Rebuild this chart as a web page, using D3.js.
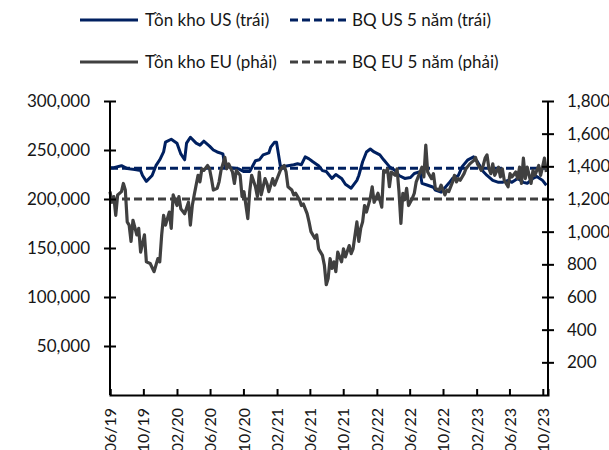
<!DOCTYPE html>
<html>
<head>
<meta charset="utf-8">
<script src="https://cdn.jsdelivr.net/npm/d3@7"></script>
<style>
  body { margin: 0; background: #fff; }
  svg { display: block; font-family: Lato, "Noto Sans", sans-serif; }
</style>
</head>
<body>
<div id="chart"></div>
<script>
// weekly data, week index counted from 01/06/2019
const startDate = new Date(2019, 5, 1);
const endDate = new Date(2023, 9, 20);

const usWeeks = [0, 2, 6, 9, 13, 16, 17, 19, 22, 24, 26, 28, 29, 32, 35, 37, 39, 40, 42, 45,
    47, 49, 52, 54, 56, 59, 60, 63, 67, 70, 73, 76, 78, 80, 83, 84, 86, 87, 89, 90,
    93, 96, 98, 100, 102, 104, 106, 109, 111, 113, 116, 118, 121, 123, 126, 129, 130, 132, 134, 136,
    138, 141, 143, 146, 149, 151, 154, 157, 159, 162, 163, 166, 169, 170, 173, 177, 179, 182, 184, 187,
    190, 192, 195, 197, 200, 203, 205, 208, 210, 213, 216, 218, 221, 223, 226, 228];
const usValues = [232000, 232000, 234000, 231000, 230000, 229000, 224000, 218000, 224000, 234000,
    240000, 248000, 258000, 261000, 257000, 246000, 240000, 257000, 263000, 257000,
    255000, 259000, 254000, 250000, 248000, 246000, 234000, 232000, 231000, 228000,
    228000, 239000, 240000, 245000, 247000, 253000, 258000, 258000, 234000, 233000,
    234000, 235000, 236000, 235000, 243000, 241000, 238000, 234000, 229000, 228000,
    221000, 225000, 221000, 215000, 211000, 219000, 224000, 238000, 248000, 251000,
    248000, 245000, 240000, 233000, 229000, 224000, 221000, 222000, 226000, 228000,
    216000, 214000, 212000, 209000, 207000, 216000, 221000, 224000, 233000, 240000,
    243000, 238000, 228000, 224000, 219000, 217000, 217000, 219000, 217000, 221000,
    217000, 216000, 221000, 223000, 219000, 214000];

const euWeeks = [0, 1, 2, 3, 4, 6, 7, 8, 9, 10, 11, 12, 14, 15, 16, 18, 19, 21, 23, 25,
    26, 27, 28, 29, 31, 32, 33, 35, 36, 37, 39, 41, 42, 43, 44, 46, 47, 48, 49, 51,
    52, 53, 54, 56, 57, 58, 60, 61, 62, 64, 65, 66, 68, 69, 70, 72, 73, 74, 76, 77,
    78, 79, 81, 82, 83, 85, 86, 87, 89, 90, 91, 92, 93, 95, 96, 97, 99, 100, 101, 103,
    104, 105, 107, 108, 109, 111, 112, 113, 114, 115, 116, 117, 118, 119, 121, 122, 123, 125, 126, 127,
    129, 130, 131, 132, 133, 134, 136, 137, 138, 140, 141, 142, 143, 144, 145, 146, 147, 149, 150, 151,
    152, 153, 154, 155, 156, 158, 159, 160, 162, 163, 164, 165, 166, 168, 169, 170, 172, 173, 175, 176,
    177, 179, 180, 181, 182, 183, 185, 186, 188, 190, 191, 192, 194, 195, 196, 197, 198, 199, 200, 201,
    203, 204, 205, 206, 208, 209, 210, 212, 213, 214, 215, 216, 217, 218, 220, 221, 222, 224, 225, 226,
    227, 228];
const euValues = [1245, 1180, 1215, 1100, 1225, 1245, 1295, 1255, 1060, 1040, 940, 1070, 980, 1020, 875, 980, 815, 805, 755, 835,
    815, 980, 1100, 1040, 1120, 1020, 1225, 1160, 1215, 1140, 1110, 1180, 1040, 1160, 1225, 1345, 1305, 1385, 1375, 1405,
    1385, 1325, 1255, 1265, 1305, 1375, 1455, 1385, 1415, 1365, 1295, 1375, 1345, 1215, 1245, 1080, 1245, 1345, 1275, 1215,
    1365, 1225, 1325, 1295, 1245, 1325, 1285, 1315, 1375, 1395, 1405, 1365, 1275, 1255, 1225, 1235, 1195, 1160, 1170, 1110,
    1060, 1000, 960, 980, 895, 855, 795, 675, 715, 835, 775, 815, 755, 875, 815, 895, 845, 915, 865, 895,
    1060, 940, 1020, 1060, 1160, 1120, 1205, 1275, 1180, 1235, 1195, 1150, 1375, 1365, 1385, 1275, 1365, 1345, 1385, 1245,
    1050, 1235, 1195, 1265, 1160, 1205, 1235, 1305, 1365, 1395, 1335, 1530, 1365, 1325, 1355, 1265, 1255, 1285, 1225, 1255,
    1245, 1305, 1345, 1305, 1325, 1315, 1355, 1385, 1415, 1435, 1455, 1415, 1375, 1405, 1450, 1470, 1385, 1355, 1415, 1345,
    1395, 1335, 1385, 1315, 1275, 1355, 1335, 1365, 1325, 1395, 1295, 1450, 1325, 1395, 1295, 1375, 1345, 1405, 1345, 1395,
    1450, 1365];

const usAvg5y = 231500;
const euAvg5y = 1200;

const xTickLabels = ['06/19', '10/19', '02/20', '06/20', '10/20', '02/21', '06/21',
    '10/21', '02/22', '06/22', '10/22', '02/23', '06/23', '10/23'];
const leftTicks = [50000, 100000, 150000, 200000, 250000, 300000];
const rightTicks = [200, 400, 600, 800, 1000, 1200, 1400, 1600, 1800];

const legendItems = [
    {label: 'Tồn kho US (trái)', color: '#002060', dash: null, col: 0, row: 0},
    {label: 'BQ US 5 năm (trái)', color: '#002060', dash: '8,4', col: 1, row: 0},
    {label: 'Tồn kho EU (phải)', color: '#404040', dash: null, col: 0, row: 1},
    {label: 'BQ EU 5 năm (phải)', color: '#404040', dash: '8,4', col: 1, row: 1}
];

const width = 609, height = 450;
const margin = {left: 110, right: 61, top: 101, bottom: 55};
const plotRight = width - margin.right;
const plotBottom = height - margin.bottom;
const textColor = '#161616';

const svg = d3.select('#chart').append('svg')
    .attr('width', width)
    .attr('height', height);

const parseTick = d3.timeParse('%m/%y');
const weekDate = w => d3.timeDay.offset(startDate, w * 7);

const x = d3.scaleTime()
    .domain([startDate, endDate])
    .range([margin.left, plotRight]);

const yLeft = d3.scaleLinear()
    .domain([0, 300000])
    .range([plotBottom, margin.top]);

const yRight = d3.scaleLinear()
    .domain([0, 1800])
    .range([plotBottom, margin.top]);

const usData = usWeeks.map((w, i) => ({date: weekDate(w), value: usValues[i]}));
const euData = euWeeks.map((w, i) => ({date: weekDate(w), value: euValues[i]}));

// average lines
svg.append('line')
    .attr('x1', x(startDate)).attr('x2', x(endDate))
    .attr('y1', yRight(euAvg5y)).attr('y2', yRight(euAvg5y))
    .attr('stroke', '#404040').attr('stroke-width', 3)
    .attr('stroke-dasharray', '8,4');

svg.append('line')
    .attr('x1', x(startDate)).attr('x2', x(endDate))
    .attr('y1', yLeft(usAvg5y)).attr('y2', yLeft(usAvg5y))
    .attr('stroke', '#002060').attr('stroke-width', 3)
    .attr('stroke-dasharray', '8,4');

// series
svg.append('path')
    .datum(usData)
    .attr('fill', 'none')
    .attr('stroke', '#002060')
    .attr('stroke-width', 3)
    .attr('stroke-linejoin', 'round')
    .attr('d', d3.line().x(d => x(d.date)).y(d => yLeft(d.value)));

svg.append('path')
    .datum(euData)
    .attr('fill', 'none')
    .attr('stroke', '#404040')
    .attr('stroke-width', 3.2)
    .attr('stroke-linejoin', 'round')
    .attr('d', d3.line().x(d => x(d.date)).y(d => yRight(d.value)));

// axes
const leftAxis = svg.append('g')
    .attr('transform', `translate(${margin.left},0)`)
    .call(d3.axisLeft(yLeft).tickValues(leftTicks).tickSize(6).tickPadding(14)
        .tickFormat(d3.format(',')));

const rightAxis = svg.append('g')
    .attr('transform', `translate(${plotRight},0)`)
    .call(d3.axisRight(yRight).tickValues(rightTicks).tickSize(6).tickPadding(13)
        .tickFormat(d3.format(',')));

const bottomAxis = svg.append('g')
    .attr('transform', `translate(0,${plotBottom})`)
    .call(d3.axisBottom(x).tickValues(xTickLabels.map(parseTick)).tickSize(-6)
        .tickFormat(d3.timeFormat('%m/%y')));

[leftAxis, rightAxis, bottomAxis].forEach(g => {
    g.select('.domain').attr('stroke', '#000').attr('stroke-width', 2);
    g.selectAll('.tick line').attr('stroke', '#000').attr('stroke-width', 2);
    g.selectAll('text').attr('fill', textColor).style('font-size', '17px')
        .style('font-family', 'Lato, "Noto Sans", sans-serif');
});
// ticks cross the vertical axes
leftAxis.selectAll('.tick line').attr('x1', 6);
rightAxis.selectAll('.tick line').attr('x1', -6);
leftAxis.select('.domain').attr('d', `M0,${plotBottom}V${margin.top}`);
rightAxis.select('.domain').attr('d', `M0,${plotBottom}V${margin.top}`);

bottomAxis.selectAll('text')
    .style('font-size', '16px')
    .attr('transform', 'rotate(-90)')
    .attr('text-anchor', 'end')
    .attr('x', -13)
    .attr('y', 0)
    .attr('dy', '0.35em');

// legend
const legend = svg.append('g');
const colX = [[80, 138, 145], [290, 347, 352]];
const rowY = [20, 62];

legendItems.forEach(d => {
    const [x1, x2, tx] = colX[d.col];
    const ly = rowY[d.row];
    legend.append('line')
        .attr('x1', x1).attr('x2', x2)
        .attr('y1', ly).attr('y2', ly)
        .attr('stroke', d.color)
        .attr('stroke-width', 3)
        .attr('stroke-dasharray', d.dash);
    legend.append('text')
        .attr('x', tx)
        .attr('y', ly)
        .attr('dy', '0.35em')
        .style('font-size', '17px')
        .attr('fill', textColor)
        .text(d.label);
});
</script>
</body>
</html>
